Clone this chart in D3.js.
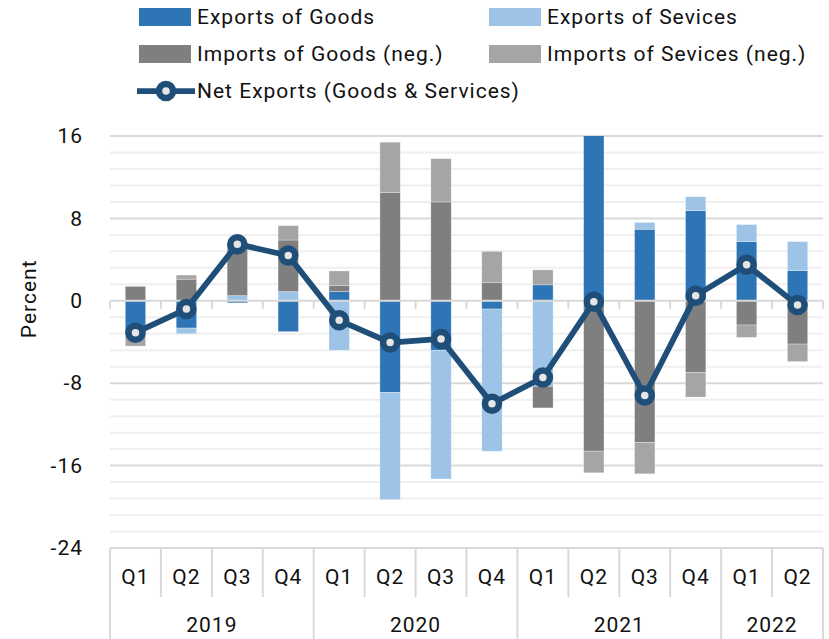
<!DOCTYPE html>
<html>
<head>
<meta charset="utf-8">
<script src="https://cdn.jsdelivr.net/npm/d3@7"></script>
<style>
  html, body { margin: 0; padding: 0; background: #fff; }
  svg { display: block; font-family: Roboto, "DejaVu Sans", sans-serif; }
  text { letter-spacing: 1px; }
</style>
</head>
<body>
<svg id="chart" width="829" height="639"></svg>
<script>
// ---- data ----
const quarters = ["Q1","Q2","Q3","Q4","Q1","Q2","Q3","Q4","Q1","Q2","Q3","Q4","Q1","Q2"];
const years = ["2019","2020","2021","2022"];
const yearCounts = [4, 4, 4, 2];
const exportsGoods    = [-3.3, -2.65, -0.2, -3.0, 0.9, -8.9, -4.8, -0.8, 1.55, 16.6, 6.95, 8.75, 5.75, 2.95];
const exportsServices = [0, -0.55, 0.5, 0.9, -4.8, -10.4, -12.5, -13.8, -8.3, 0, 0.65, 1.35, 1.65, 2.8];
const importsGoods    = [1.4, 2.1, 5.1, 5.0, 0.6, 10.5, 9.6, 1.8, -2.1, -14.6, -13.75, -6.95, -2.35, -4.2];
const importsServices = [-1.1, 0.4, 0.1, 1.4, 1.4, 4.9, 4.2, 3.0, 1.45, -2.1, -3.05, -2.4, -1.2, -1.7];
const netExports      = [-3.1, -0.8, 5.5, 4.4, -1.9, -4.05, -3.7, -10.0, -7.45, -0.1, -9.2, 0.5, 3.5, -0.4];
const yTicks = [-24, -16, -8, 0, 8, 16];
const seriesNames = ["Exports of Goods", "Exports of Sevices", "Imports of Goods (neg.)", "Imports of Sevices (neg.)"];
const lineName = "Net Exports (Goods & Services)";
const colors = ["#2E75B6", "#9DC3E6", "#7F7F7F", "#A5A5A5"];
const lineColor = "#1F4E79";

// ---- layout ----
const svg = d3.select("#chart");
const pLeft = 110, pRight = 823, pTop = 136, pBottom = 548;
const fs = 21;
const idx = quarters.map((q, i) => i);
const x = d3.scaleBand().domain(idx).range([pLeft, pRight]).paddingInner(0.6).paddingOuter(0.3);
const xb = d3.scaleBand().domain(idx).range([pLeft, pRight]);
const y = d3.scaleLinear().domain([-24, 16]).range([pBottom, pTop]);

// gridlines (minor every 1.6, major every 8)
const minor = d3.range(0, 26).map(i => -24 + i * 1.6);
svg.append("g").selectAll("line").data(minor.filter(v => Math.abs(Math.round(v / 8) * 8 - v) > 0.01))
  .join("line")
  .attr("x1", pLeft).attr("x2", pRight)
  .attr("y1", d => y(d)).attr("y2", d => y(d))
  .attr("stroke", "#EFEFEF").attr("stroke-width", 2);
svg.append("g").selectAll("line").data(yTicks.filter(v => v !== 0 && v !== -24))
  .join("line")
  .attr("x1", pLeft).attr("x2", pRight)
  .attr("y1", d => y(d)).attr("y2", d => y(d))
  .attr("stroke", "#D9D9D9").attr("stroke-width", 2);

// stacked bars
const rows = idx.map(i => ({ i, eg: exportsGoods[i], es: exportsServices[i], ig: importsGoods[i], is: importsServices[i] }));
const keys = ["eg", "es", "ig", "is"];
const stacked = d3.stack().keys(keys).offset(d3.stackOffsetDiverging)(rows);

svg.append("clipPath").attr("id", "plotclip")
  .append("rect").attr("x", pLeft).attr("y", pTop).attr("width", pRight - pLeft).attr("height", pBottom - pTop);

const barsG = svg.append("g").attr("clip-path", "url(#plotclip)");
stacked.forEach((layer, k) => {
  barsG.append("g").selectAll("rect").data(layer).join("rect")
    .attr("x", d => x(d.data.i))
    .attr("width", x.bandwidth())
    .attr("y", d => y(Math.max(d[0], d[1])))
    .attr("height", d => Math.abs(y(d[0]) - y(d[1])))
    .attr("fill", colors[k])
    .attr("stroke", "#ffffff").attr("stroke-opacity", 0.5).attr("stroke-width", 0.6);
});

// zero axis line with ticks
svg.append("line").attr("x1", pLeft).attr("x2", pRight).attr("y1", y(0)).attr("y2", y(0))
  .attr("stroke", "#D9D9D9").attr("stroke-width", 2);
svg.append("g").selectAll("line").data(d3.range(0, 15)).join("line")
  .attr("x1", i => pLeft + i * xb.bandwidth()).attr("x2", i => pLeft + i * xb.bandwidth())
  .attr("y1", y(0)).attr("y2", y(0) + 8)
  .attr("stroke", "#D9D9D9").attr("stroke-width", 2);

// bottom category axis box
svg.append("line").attr("x1", pLeft).attr("x2", pRight).attr("y1", pBottom).attr("y2", pBottom)
  .attr("stroke", "#D9D9D9").attr("stroke-width", 2);
const yearBounds = [0];
yearCounts.forEach(c => yearBounds.push(yearBounds[yearBounds.length - 1] + c));
svg.append("g").selectAll("line").data(d3.range(0, 15)).join("line")
  .attr("x1", i => pLeft + i * xb.bandwidth()).attr("x2", i => pLeft + i * xb.bandwidth())
  .attr("y1", pBottom)
  .attr("y2", i => yearBounds.includes(i) ? 639 : 597)
  .attr("stroke", "#D9D9D9").attr("stroke-width", 2);

svg.append("g").selectAll("text").data(quarters).join("text")
  .attr("x", (d, i) => xb(i) + xb.bandwidth() / 2)
  .attr("y", 577).attr("dy", "0.35em")
  .attr("text-anchor", "middle").attr("font-size", fs).attr("fill", "#111")
  .text(d => d);
svg.append("g").selectAll("text").data(years).join("text")
  .attr("x", (d, k) => pLeft + (yearBounds[k] + yearBounds[k + 1]) / 2 * xb.bandwidth())
  .attr("y", 625).attr("dy", "0.35em")
  .attr("text-anchor", "middle").attr("font-size", fs).attr("fill", "#111")
  .text(d => d);

// y axis labels
const yAxis = d3.axisLeft(y).tickValues(yTicks).tickSize(0).tickPadding(0).tickFormat(d => String(d));
const yg = svg.append("g").attr("transform", `translate(83,0)`).call(yAxis);
yg.select(".domain").remove();
yg.selectAll("text").attr("font-size", fs).attr("fill", "#111").attr("font-family", "Roboto, sans-serif");
svg.append("text").attr("transform", `translate(36,${y(0) - 2}) rotate(-90)`)
  .attr("text-anchor", "middle").attr("font-size", fs).attr("fill", "#111").text("Percent");

// net exports line
const line = d3.line().x((d, i) => xb(i) + xb.bandwidth() / 2).y(d => y(d));
svg.append("path").datum(netExports).attr("d", line)
  .attr("fill", "none").attr("stroke", lineColor).attr("stroke-width", 5.75).attr("stroke-linejoin", "round");
svg.append("g").selectAll("circle").data(netExports).join("circle")
  .attr("cx", (d, i) => xb(i) + xb.bandwidth() / 2).attr("cy", d => y(d))
  .attr("r", 7).attr("fill", "#E7E6E6").attr("stroke", lineColor).attr("stroke-width", 6.5);

// legend
const leg = svg.append("g");
const legPos = [[139, 17], [489, 17], [139, 54], [489, 54]];
seriesNames.forEach((name, k) => {
  const [lx, ly] = legPos[k];
  leg.append("rect").attr("x", lx).attr("y", ly - 9).attr("width", 52).attr("height", 18).attr("fill", colors[k]);
  leg.append("text").attr("x", lx + 58).attr("y", ly).attr("dy", "0.35em")
    .attr("font-size", fs).attr("fill", "#111").text(name);
});
leg.append("line").attr("x1", 137).attr("x2", 195).attr("y1", 91).attr("y2", 91)
  .attr("stroke", lineColor).attr("stroke-width", 5.75);
leg.append("circle").attr("cx", 166).attr("cy", 91).attr("r", 7)
  .attr("fill", "#E7E6E6").attr("stroke", lineColor).attr("stroke-width", 6.5);
leg.append("text").attr("x", 197).attr("y", 91).attr("dy", "0.35em")
  .attr("font-size", fs).attr("fill", "#111").text(lineName);
</script>
</body>
</html>
